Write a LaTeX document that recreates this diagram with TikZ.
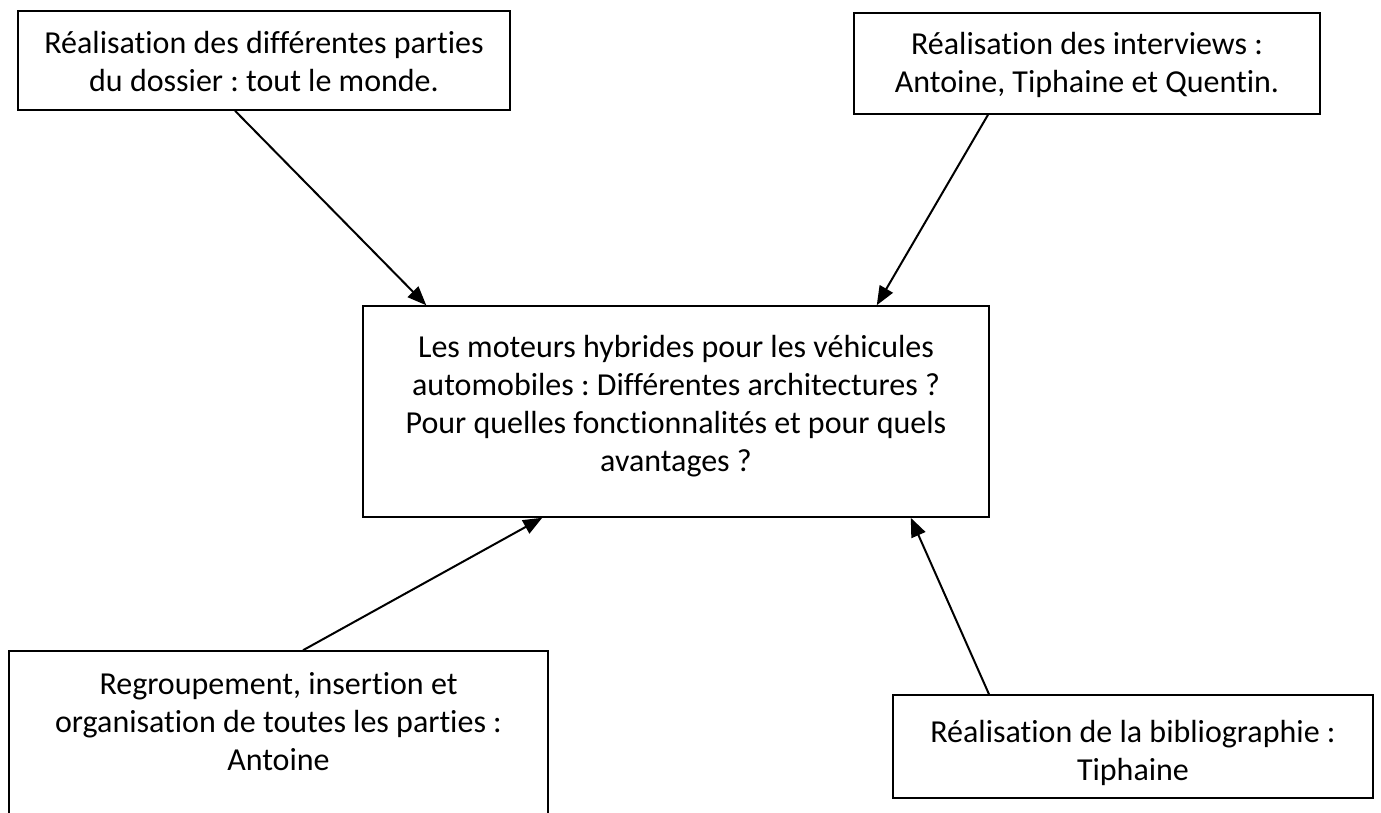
\documentclass[tikz,border=0pt]{standalone}
\usepackage{fontspec}
\setmainfont{Carlito}[Ligatures=NoCommon]
\frenchspacing
\usetikzlibrary{arrows.meta}
\tikzset{
  boxnode/.style={draw=black, line width=1.5pt, inner sep=0pt, fill=none},
  txt/.style={align=center, inner sep=0pt, font=\fontsize{32}{38}\selectfont},
  conn/.style={line width=2pt, -{Triangle[length=19pt,width=15pt]}}
}
\begin{document}
\begin{tikzpicture}[x=1pt,y=-1pt]
\useasboundingbox (0,0) rectangle (1381,812);
% boxes
\node[boxnode, minimum width=492pt, minimum height=99pt] (a) at (264,60.5) {};
\node[boxnode, minimum width=466pt, minimum height=101pt] (b) at (1087,63.5) {};
\node[boxnode, minimum width=626pt, minimum height=211pt] (c) at (676,411.5) {};
\node[boxnode, minimum width=539pt, minimum height=180pt] (d) at (278.5,741) {};
\node[boxnode, minimum width=480pt, minimum height=103pt] (e) at (1133,746.5) {};
% texts
\node[txt] (ta) at (264,62) {Réalisation des différentes parties\\du dossier : tout le monde.};
\node[txt] (tb) at (1087,65) {Réalisation des interviews :\\Antoine, Tiphaine et Quentin.};
\node[txt] (tc) at (676,406) {Les moteurs hybrides pour les véhicules\\automobiles : Différentes architectures ?\\Pour quelles fonctionnalités et pour quels\\avantages ?};
\node[txt] (td) at (278.5,722) {Regroupement, insertion et\\organisation de toutes les parties :\\Antoine};
\node[txt] (te) at (1133,753) {Réalisation de la bibliographie :\\Tiphaine};
% connectors
\draw[conn] ([xshift=-29pt]a.south) -- ([xshift=64pt]c.north west);
\draw[conn] ([xshift=-99pt]b.south) -- ([xshift=-113pt]c.north east);
\draw[conn] ([xshift=24.5pt]d.north) -- ([xshift=180pt]c.south west);
\draw[conn] ([xshift=-144pt]e.north) -- ([xshift=-79pt]c.south east);
\end{tikzpicture}
\end{document}
